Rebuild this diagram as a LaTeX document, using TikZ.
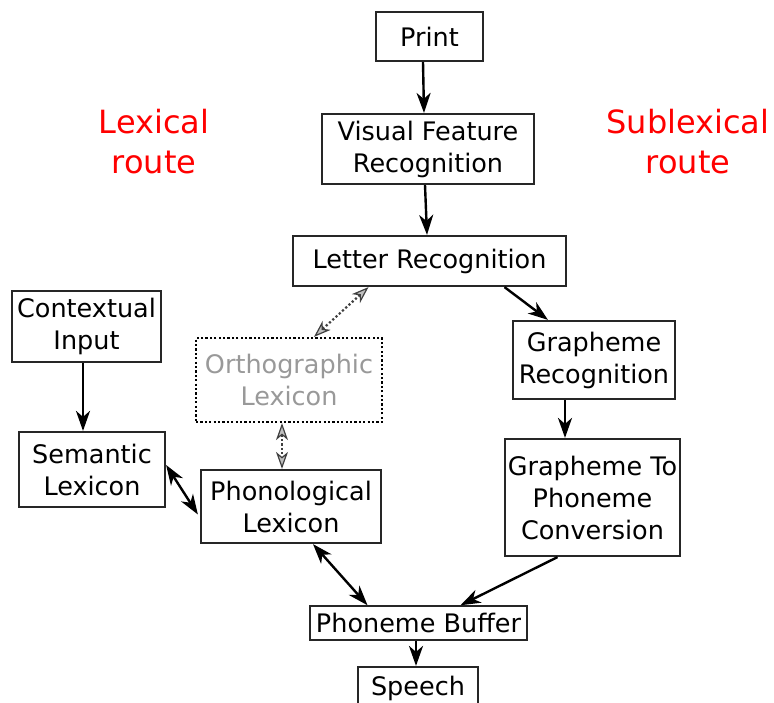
\documentclass[tikz,border=0pt]{standalone}
\usepackage{fontspec}
\setmainfont{DejaVu Sans}
\usetikzlibrary{arrows.meta}
\usetikzlibrary{calc}

\begin{document}
\begin{tikzpicture}[x=1pt,y=-1pt,
    box/.style={draw=black!85,line width=2.2pt,align=center,inner sep=0pt,
        font=\fontsize{25.5}{32}\selectfont},
    ghostbox/.style={box,draw=black,dash pattern=on 2.2pt off 2.2pt,text=black!40},
    route/.style={align=center,text=red,font=\fontsize{32}{40}\selectfont},
    link/.style={line width=2.4pt,-{Stealth[length=20pt,width=14pt,inset=6pt]}},
    twolink/.style={line width=2.4pt,{Stealth[length=20pt,width=14pt,inset=6pt]}-{Stealth[length=20pt,width=14pt,inset=6pt]}},
    ghostlink/.style={line width=2.2pt,dash pattern=on 2.2pt off 2.2pt,black!75,
        {Stealth[length=17pt,width=12pt,inset=5pt,line width=1.2pt,fill=black!25]}-{Stealth[length=17pt,width=12pt,inset=5pt,line width=1.2pt,fill=black!25]}}]
            \useasboundingbox (0,0) rectangle (774,702);
            \clip (0,0) rectangle (774,702);
            \node[box,minimum width=107pt,minimum height=49pt] (Print) at (429.5,36.5) {Print};
            \node[box,minimum width=212pt,minimum height=70pt] (VFR) at (428,149) {Visual Feature\\Recognition};
            \node[box,minimum width=273pt,minimum height=50pt] (LR) at (429.5,261) {Letter Recognition};
            \node[box,minimum width=149pt,minimum height=71pt] (CI) at (86.5,326.5) {Contextual\\Input};
            \node[ghostbox,minimum width=186pt,minimum height=84pt] (OL) at (289,380) {Orthographic\\Lexicon};
            \node[box,minimum width=162pt,minimum height=78pt] (GR) at (594,360) {Grapheme\\Recognition};
            \node[box,minimum width=146pt,minimum height=75pt] (SL) at (92,469.5) {Semantic\\Lexicon};
            \node[box,minimum width=180pt,minimum height=73pt] (PL) at (291,506.5) {Phonological\\Lexicon};
            \node[box,minimum width=175pt,minimum height=117pt] (GPC) at (592.5,497.5) {Grapheme To\\Phoneme\\Conversion};
            \node[box,line width=1.5pt,minimum width=217pt,minimum height=34pt] (PB) at (418.5,623) {Phoneme Buffer};
            \node[box,minimum width=120pt,minimum height=42pt] (Sp) at (418,688) {Speech};
            \node[route] (Lex) at (154,142) {Lexical\\route};
            \node[route] (Sub) at (688,142) {Sublexical\\route};
            \draw[link] ($(Print.south)+(-6.5,0)$) -- ($(VFR.north)+(-4,0)$);
            \draw[link] ($(VFR.south)+(-3,0)$) -- ($(LR.north)+(-2.5,0)$);
            \draw[link] ($(LR.south)+(75,0)$) -- ($(GR.north)+(-46,0)$);
            \draw[link] ($(GR.south)+(-29,0)$) -- ($(GPC.north)+(-27.5,0)$);
            \draw[link] ($(GPC.south)+(-35,0)$) -- ($(PB.north)+(42,0)$);
            \draw[link] ($(CI.south)+(-3.5,0)$) -- ($(SL.north)+(-9,0)$);
            \draw[twolink] ($(SL.east)+(0,-4.5)$) -- ($(PL.west)+(-2,8)$);
            \draw[twolink] ($(PL.south)+(22,0)$) -- ($(PB.north)+(-51,0)$);
            \draw[link] ($(PB.south)+(-2.5,0)$) -- ($(Sp.north)+(-2,0)$);
            \draw[ghostlink] ($(LR.south)+(-61,0)$) -- ($(OL.north)+(25,0)$);
            \draw[ghostlink] ($(OL.south)+(-7,0)$) -- ($(PL.north)+(-9,0)$);
        \end{tikzpicture}
\end{document}
